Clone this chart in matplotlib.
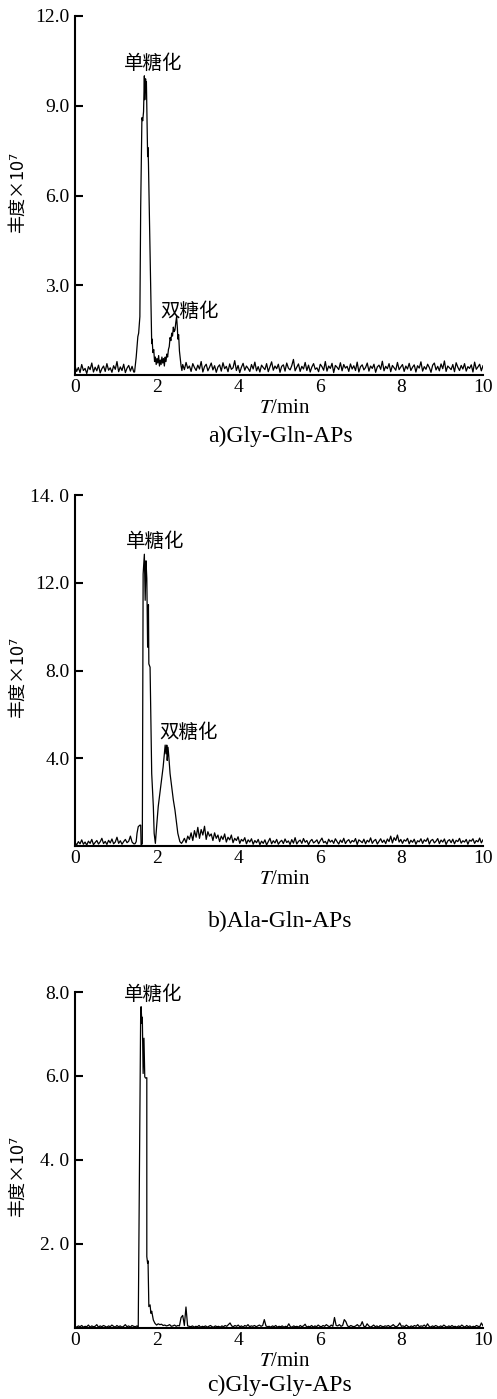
import numpy as np
import matplotlib
matplotlib.use('Agg')
import matplotlib.pyplot as plt

plt.rcParams['font.family'] = ['Liberation Serif', 'Noto Sans CJK SC']
plt.rcParams['mathtext.fontset'] = 'stix'

# ---- panel a : Gly-Gln-APs (y in units of 1e7) ----
a_pre = [0.30, 0.12, 0.25, 0.08, 0.35, 0.15, 0.22, 0.05, 0.28, 0.18, 0.40, 0.10, 0.26, 0.14, 0.33, 0.07, 0.21, 0.30,
         0.12, 0.38, 0.16, 0.24, 0.09, 0.31, 0.19, 0.45, 0.11, 0.27, 0.15, 0.36, 0.08, 0.23, 0.32, 0.13, 0.29, 0.10]
a_peak = [(1.46, 0.10), (1.50, 0.60), (1.54, 1.28), (1.56, 1.40), (1.58, 1.75), (1.59, 1.95), (1.61, 5.6),
          (1.64, 8.6), (1.66, 8.5), (1.68, 8.8), (1.70, 10.0), (1.71, 9.2), (1.73, 9.9), (1.74, 9.5), (1.75, 9.8),
          (1.78, 7.3), (1.79, 7.6), (1.80, 7.1), (1.88, 1.05), (1.89, 1.2), (1.91, 0.75), (1.93, 0.85), (1.95, 0.45),
          (1.97, 0.6), (1.99, 0.35), (2.01, 0.55), (2.03, 0.4), (2.05, 0.65), (2.07, 0.3), (2.09, 0.5), (2.11, 0.35),
          (2.13, 0.6), (2.15, 0.4), (2.17, 0.55), (2.19, 0.3), (2.21, 0.6), (2.23, 0.45), (2.25, 0.7), (2.27, 0.6),
          (2.29, 0.85), (2.31, 0.95), (2.33, 1.25), (2.35, 1.15), (2.37, 1.4), (2.39, 1.3), (2.41, 1.6), (2.43, 1.45),
          (2.45, 1.5), (2.47, 1.75), (2.49, 1.95), (2.51, 1.55), (2.52, 1.2), (2.54, 1.35), (2.56, 0.8), (2.58, 0.55),
          (2.60, 0.3), (2.62, 0.15)]
a_post = [0.35, 0.18, 0.42, 0.22, 0.30, 0.12, 0.38, 0.25, 0.15, 0.33, 0.20, 0.45, 0.10, 0.28, 0.36, 0.14, 0.26, 0.40, 0.17, 0.31,
          0.09, 0.27, 0.34, 0.13, 0.41, 0.21, 0.29, 0.11, 0.37, 0.19, 0.24, 0.48, 0.15, 0.32, 0.08, 0.26, 0.39, 0.16, 0.30, 0.22,
          0.12, 0.35, 0.20, 0.43, 0.14, 0.28, 0.10, 0.33, 0.25, 0.18, 0.38, 0.11, 0.27, 0.44, 0.16, 0.30, 0.21, 0.36, 0.09, 0.29,
          0.34, 0.13, 0.40, 0.23, 0.17, 0.31, 0.52, 0.14, 0.26, 0.37, 0.12, 0.29, 0.20, 0.42, 0.15, 0.33, 0.10, 0.27, 0.38, 0.19,
          0.24, 0.11, 0.36, 0.28, 0.16, 0.45, 0.13, 0.30, 0.22, 0.39, 0.08, 0.32, 0.26, 0.18, 0.41, 0.14, 0.35, 0.23, 0.29, 0.12,
          0.37, 0.20, 0.31, 0.15, 0.43, 0.10, 0.28, 0.34, 0.17, 0.25, 0.40, 0.13, 0.30, 0.22, 0.36, 0.09, 0.27, 0.33, 0.19, 0.46,
          0.14, 0.29, 0.21, 0.38, 0.11, 0.32, 0.24, 0.16, 0.42, 0.18, 0.27, 0.35, 0.12, 0.30, 0.20, 0.39, 0.15, 0.26, 0.34, 0.10,
          0.31, 0.23, 0.44, 0.13, 0.28, 0.19, 0.36, 0.25, 0.09, 0.33, 0.40, 0.17, 0.29, 0.14, 0.37, 0.21, 0.47, 0.12, 0.30, 0.24,
          0.18, 0.35, 0.11, 0.41, 0.26, 0.15, 0.32, 0.20, 0.38, 0.13, 0.28, 0.22, 0.34, 0.10, 0.43, 0.19, 0.27, 0.36, 0.14, 0.31]

# ---- panel b : Ala-Gln-APs (axis units, ticks drawn at 4/8/12/16) ----
b_pre = [0.15, 0.05, 0.20, 0.10, 0.28, 0.08, 0.18, 0.04, 0.22, 0.12, 0.30, 0.06, 0.16, 0.25, 0.09, 0.19, 0.35, 0.11,
         0.21, 0.07, 0.26, 0.14, 0.32, 0.10, 0.18, 0.40, 0.12, 0.24, 0.08, 0.20, 0.30, 0.15, 0.22, 0.45, 0.18, 0.10]
b_peak = [(1.47, 0.10), (1.50, 0.20), (1.52, 0.58), (1.55, 0.88), (1.59, 0.95), (1.61, 0.95), (1.62, 0.05),
          (1.65, 0.10), (1.67, 12.4), (1.70, 13.3), (1.72, 11.2), (1.74, 13.0), (1.76, 12.2), (1.78, 9.06),
          (1.80, 11.0), (1.81, 8.3), (1.84, 8.15), (1.88, 3.3), (1.92, 1.8), (1.94, 0.58), (1.97, 0.12),
          (2.00, 0.88), (2.04, 1.8), (2.08, 2.4), (2.12, 3.0), (2.16, 3.6), (2.19, 4.2), (2.21, 4.6), (2.23, 4.2),
          (2.25, 4.6), (2.26, 3.9), (2.28, 4.5), (2.30, 4.06), (2.33, 3.3), (2.37, 2.7), (2.41, 2.1), (2.45, 1.64),
          (2.48, 1.18), (2.52, 0.58), (2.57, 0.2), (2.61, 0.12)]
b_post = [0.20, 0.35, 0.15, 0.45, 0.30, 0.60, 0.25, 0.70, 0.40, 0.85, 0.35, 0.75, 0.50, 0.90, 0.30, 0.65, 0.45, 0.55, 0.25, 0.60,
          0.35, 0.50, 0.20, 0.45, 0.30, 0.55, 0.18, 0.40, 0.28, 0.50, 0.15, 0.35, 0.25, 0.42, 0.12, 0.30, 0.22, 0.38, 0.10, 0.28,
          0.18, 0.33, 0.08, 0.25, 0.15, 0.30, 0.06, 0.22, 0.12, 0.28, 0.05, 0.20, 0.35, 0.10, 0.24, 0.14, 0.30, 0.08, 0.19, 0.26,
          0.11, 0.32, 0.16, 0.23, 0.07, 0.29, 0.13, 0.38, 0.09, 0.21, 0.27, 0.12, 0.34, 0.17, 0.25, 0.06, 0.22, 0.30, 0.14, 0.20,
          0.28, 0.10, 0.24, 0.36, 0.15, 0.21, 0.08, 0.31, 0.18, 0.26, 0.12, 0.33, 0.20, 0.09, 0.27, 0.16, 0.35, 0.11, 0.23, 0.29,
          0.13, 0.25, 0.19, 0.34, 0.07, 0.28, 0.22, 0.15, 0.31, 0.10, 0.26, 0.18, 0.37, 0.12, 0.24, 0.30, 0.09, 0.21, 0.33, 0.16,
          0.27, 0.11, 0.32, 0.20, 0.45, 0.14, 0.38, 0.25, 0.50, 0.18, 0.30, 0.12, 0.28, 0.22, 0.35, 0.10, 0.26, 0.17, 0.31, 0.08,
          0.24, 0.19, 0.33, 0.12, 0.28, 0.21, 0.36, 0.09, 0.25, 0.30, 0.14, 0.22, 0.34, 0.11, 0.27, 0.18, 0.32, 0.07, 0.23, 0.29,
          0.15, 0.31, 0.10, 0.26, 0.20, 0.35, 0.13, 0.24, 0.18, 0.30, 0.08, 0.27, 0.22, 0.33, 0.12, 0.25, 0.19, 0.36, 0.14, 0.28]

# ---- panel c : Gly-Gly-APs ----
c_pre = [0.04, 0.02, 0.05, 0.03, 0.06, 0.02, 0.04, 0.03, 0.07, 0.02, 0.05, 0.03, 0.04, 0.08, 0.02, 0.05, 0.03, 0.06, 0.04,
         0.02, 0.05, 0.03, 0.07, 0.04, 0.02, 0.06, 0.03, 0.05, 0.02, 0.04, 0.08, 0.03, 0.05, 0.02, 0.06, 0.04, 0.03, 0.05]
c_peak = [(1.55, 0.02), (1.61, 7.57), (1.62, 7.65), (1.64, 7.25), (1.65, 7.4), (1.67, 6.06), (1.69, 6.9), (1.71, 5.98),
          (1.73, 5.95), (1.76, 5.96), (1.76, 1.7), (1.78, 1.54), (1.79, 1.6), (1.81, 0.51), (1.84, 0.55), (1.86, 0.35),
          (1.88, 0.4), (1.92, 0.19), (1.96, 0.11), (2.00, 0.07)]
c_post = [0.10, 0.08, 0.09, 0.06, 0.07, 0.05, 0.06, 0.08, 0.04, 0.05, 0.07, 0.04, 0.06, 0.05, 0.25, 0.30, 0.06, 0.50, 0.05, 0.04,
          0.03, 0.05, 0.02, 0.04, 0.03, 0.06, 0.02, 0.04, 0.03, 0.05, 0.02, 0.04, 0.06, 0.03, 0.02, 0.05, 0.03, 0.04, 0.02, 0.05,
          0.03, 0.06, 0.04, 0.08, 0.12, 0.05, 0.03, 0.06, 0.04, 0.07, 0.03, 0.05, 0.02, 0.06, 0.04, 0.08, 0.03, 0.05, 0.04, 0.06,
          0.03, 0.05, 0.07, 0.04, 0.06, 0.20, 0.05, 0.03, 0.04, 0.02, 0.05, 0.03, 0.06, 0.02, 0.04, 0.03, 0.05, 0.02, 0.04, 0.03,
          0.10, 0.03, 0.02, 0.05, 0.03, 0.04, 0.02, 0.06, 0.03, 0.05, 0.09, 0.02, 0.04, 0.03, 0.06, 0.02, 0.05, 0.03, 0.07, 0.04,
          0.03, 0.06, 0.04, 0.08, 0.05, 0.03, 0.07, 0.04, 0.25, 0.06, 0.05, 0.08, 0.04, 0.06, 0.20, 0.15, 0.05, 0.03, 0.06, 0.04,
          0.03, 0.05, 0.08, 0.04, 0.06, 0.15, 0.04, 0.03, 0.10, 0.05, 0.02, 0.04, 0.07, 0.03, 0.05, 0.02, 0.06, 0.04, 0.03, 0.05,
          0.04, 0.06, 0.03, 0.05, 0.08, 0.04, 0.03, 0.06, 0.12, 0.04, 0.05, 0.03, 0.07, 0.04, 0.02, 0.05, 0.03, 0.06, 0.04, 0.08,
          0.03, 0.05, 0.04, 0.07, 0.03, 0.10, 0.04, 0.02, 0.05, 0.03, 0.06, 0.04, 0.02, 0.05, 0.03, 0.07, 0.04, 0.02, 0.05, 0.03,
          0.06, 0.03, 0.04, 0.02, 0.05, 0.03, 0.07, 0.04, 0.02, 0.06, 0.03, 0.05, 0.02, 0.04, 0.03, 0.06, 0.04, 0.03, 0.12, 0.05]

x_ticks = [0, 2, 4, 6, 8, 10]
a_yticks, a_ylabels = [3, 6, 9, 12], ['3.0', '6.0', '9.0', '12.0']
b_yticks, b_ylabels = [4, 8, 12, 16], ['4.0', '8.0', '12.0', '14. 0']
c_yticks, c_ylabels = [2, 4, 6, 8], ['2. 0', '4. 0', '6.0', '8.0']
captions = ['a)Gly-Gln-APs', 'b)Ala-Gln-APs', 'c)Gly-Gly-APs']


def trace(pre, pre_end, peak, post, post_start):
    t = np.concatenate([np.linspace(0, pre_end, len(pre)),
                        [p[0] for p in peak],
                        np.linspace(post_start, 10, len(post))])
    y = np.concatenate([pre, [p[1] for p in peak], post])
    return t, y


W, H = 497, 1399
fig = plt.figure(figsize=(W / 100, H / 100), dpi=100)

# pixel boxes: (top, bottom) of each axes
boxes = [(16, 375), (495, 846), (992, 1328)]
cap_y = [436, 921, 1385]
data = [trace(a_pre, 1.44, a_peak, a_post, 2.64),
        trace(b_pre, 1.44, b_peak, b_post, 2.64),
        trace(c_pre, 1.52, c_peak, c_post, 2.04)]
yinfo = [(12, a_yticks, a_ylabels), (16, b_yticks, b_ylabels), (8, c_yticks, c_ylabels)]
notes = [[('单糖化', 1.91, 10.43), ('双糖化', 2.82, 2.13)],
         [('单糖化', 1.96, 13.9), ('双糖化', 2.79, 5.18)],
         [('单糖化', 1.91, 7.95)]]
ylab_pos = [0.51, 0.48, 0.45]

for i in range(3):
    top, bot = boxes[i]
    ax = fig.add_axes([75 / W, 1 - bot / H, 408 / W, (bot - top) / H])
    t, y = data[i]
    ax.plot(t, y, color='black', lw=0.9)
    ymax, yt, yl = yinfo[i]
    ax.set_xlim(0, 10)
    ax.set_ylim(0, ymax)
    ax.set_xticks(x_ticks)
    ax.set_yticks(yt)
    ax.set_yticklabels(yl)
    for s in ['top', 'right']:
        ax.spines[s].set_visible(False)
    for s in ['left', 'bottom']:
        ax.spines[s].set_linewidth(1.5)
    ax.tick_params(axis='y', direction='in', length=6, width=1.5, labelsize=14, pad=4)
    ax.tick_params(axis='x', direction='in', length=0, labelsize=14, pad=3)
    for txt, tx, ty in notes[i]:
        ax.text(tx, ty, txt, ha='center', va='center', fontsize=14, family='Noto Sans CJK SC')
    ax.text(-0.14, ylab_pos[i], '丰度×10⁷', rotation=90, ha='center', va='center',
            transform=ax.transAxes, fontsize=13, family=['Noto Sans CJK SC', 'DejaVu Sans'])
    fig.text(285 / W, 1 - (bot + 33) / H, r'$\mathit{T}$/min', ha='center', va='center', fontsize=15)
    fig.text(280 / W, 1 - cap_y[i] / H, captions[i], ha='center', va='center', fontsize=17)

fig.savefig('out.png', dpi=100)
